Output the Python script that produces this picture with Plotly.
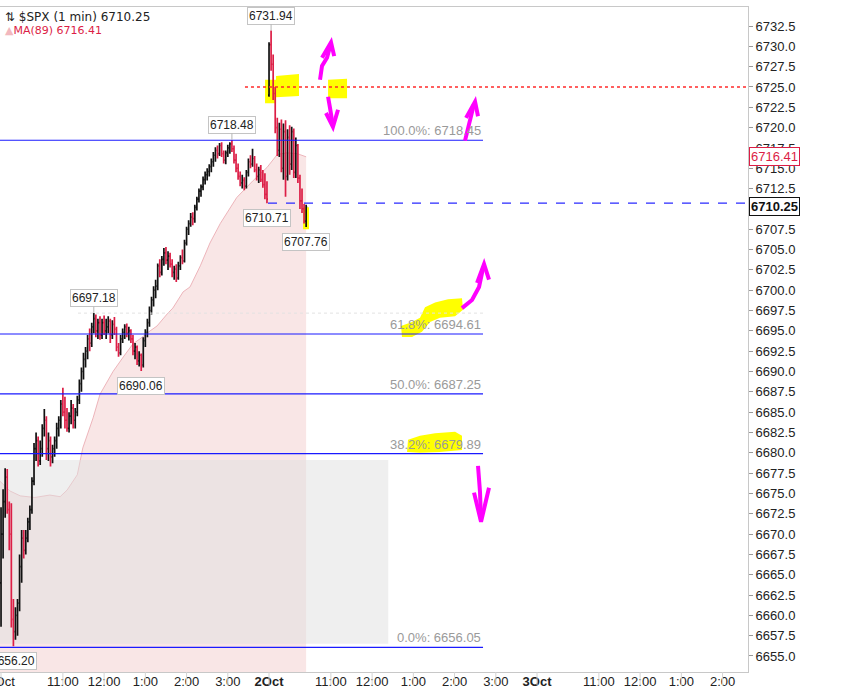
import plotly.graph_objects as go

# 3-minute bars; x is minutes from the 9:30 open of 1 Oct, sessions joined end to end
SESSION = 390
BAR_STEP = 3
oct1_count = 130
oct2_count = 19
times = [i * BAR_STEP for i in range(oct1_count)] + [SESSION + i * BAR_STEP for i in range(oct2_count)]

opens = [
    6664, 6670, 6674, 6677, 6673, 6670, 6659.5, 6658, 6660, 6661.5,
    6666, 6669.5, 6668, 6669.5, 6671.5, 6673, 6676.5, 6680.5, 6681.5, 6679,
    6680.5, 6683, 6684, 6680.5, 6681.5, 6679.5, 6680.5, 6681.5, 6683, 6684,
    6686, 6685, 6684, 6683, 6684.5, 6685.5, 6684, 6685, 6686.5, 6688.5,
    6690, 6691.5, 6692.5, 6694, 6693.5, 6695.5, 6696.5, 6695, 6696, 6694.5,
    6696, 6695, 6695.5, 6696.2, 6694.5, 6695.8, 6695.2, 6693, 6692.3, 6694,
    6694.8, 6695.5, 6694.7, 6695, 6694, 6692.5, 6693, 6691.3, 6692, 6690.8,
    6693.8, 6694.8, 6696, 6697.5, 6698.8, 6700, 6700.5, 6703, 6702.2, 6703.8,
    6704.6, 6703.7, 6704.2, 6703.2, 6702.2, 6702.6, 6701.5, 6703, 6704, 6703.6,
    6705.8, 6707.5, 6708.2, 6709, 6708.8, 6710.2, 6711.2, 6712.2, 6712.7, 6713.6,
    6714.2, 6714.6, 6715.2, 6715.8, 6716.6, 6717.2, 6716.8, 6717.8, 6716.8, 6716,
    6716.9, 6717.5, 6718, 6717.4, 6716, 6715, 6714, 6713.2, 6713.5, 6712.8,
    6714.5, 6715.8, 6715.5, 6716.2, 6714.8, 6714, 6714.8, 6713.6, 6713, 6711.8,
    6724, 6730.2, 6727.8, 6724.2, 6720, 6717.2, 6719.8, 6715, 6719.5, 6714,
    6718.8, 6715.5, 6719.5, 6714.5, 6717.8, 6713.8, 6711, 6710, 6708.5,
]
highs = [
    6673.3, 6675.5, 6678.1, 6678, 6674, 6673.8, 6662, 6661, 6662, 6667.5,
    6670.5, 6670.5, 6670.5, 6672, 6673.5, 6677, 6681.2, 6682.5, 6682, 6681.5,
    6683.5, 6685.4, 6684.5, 6682.5, 6682, 6681, 6682, 6683.7, 6684.5, 6686.5,
    6688, 6686.9, 6685.5, 6685, 6686.5, 6686, 6685.5, 6687, 6689, 6690.5,
    6692.3, 6693, 6694.5, 6695.3, 6696, 6697.18, 6697, 6696.5, 6696.8, 6696.5,
    6696.9, 6696.5, 6696.8, 6696.5, 6696.3, 6696.7, 6695.5, 6693.5, 6694.5, 6695.3,
    6695.8, 6695.9, 6695.5, 6695.2, 6694.5, 6693.5, 6693.2, 6692.5, 6692.2, 6694.2,
    6695.2, 6696.5, 6698, 6699.2, 6700.5, 6701.3, 6703.3, 6703.8, 6704.2, 6705.2,
    6705.3, 6704.8, 6704.6, 6703.8, 6703, 6703.2, 6703.5, 6704.3, 6705, 6706.2,
    6707.8, 6708.6, 6709.5, 6709.6, 6710.5, 6711.5, 6712.5, 6713, 6714, 6714.6,
    6715, 6715.5, 6716.2, 6717, 6717.6, 6717.8, 6718.1, 6718.2, 6717.2, 6717.2,
    6717.9, 6718.2, 6718.48, 6717.8, 6716.8, 6715.6, 6714.6, 6714.2, 6713.9, 6714.8,
    6716.2, 6716.6, 6717.4, 6716.5, 6715.6, 6715.2, 6715.4, 6714.8, 6714.4, 6713.4,
    6730.5, 6731.94, 6729, 6725, 6721.2, 6720.6, 6721, 6720.5, 6720.9, 6719.8,
    6720.3, 6720.1, 6719.9, 6718.8, 6718, 6714.2, 6712.5, 6710.6, 6710.5,
]
lows = [
    6658.6, 6667, 6672, 6672.5, 6668, 6658.5, 6656.2, 6657, 6657.5, 6660.5,
    6664, 6667, 6667.5, 6669, 6670.5, 6672.5, 6676, 6679, 6678.3, 6678.5,
    6679.5, 6682, 6679.1, 6679, 6678.3, 6678.7, 6679.5, 6680.5, 6682, 6683,
    6684.5, 6683, 6682.6, 6682.5, 6683.5, 6683, 6683, 6684.5, 6686, 6687.5,
    6689, 6690.5, 6691.5, 6692.5, 6693, 6694.7, 6694.2, 6694, 6693.9, 6694,
    6694.5, 6694, 6694.7, 6693.5, 6694, 6694.5, 6692.5, 6691.8, 6692, 6693.5,
    6694, 6694.2, 6693.8, 6693.5, 6692, 6691.5, 6690.8, 6690.6, 6690.06, 6690.5,
    6693, 6694.2, 6695.5, 6697, 6698, 6699, 6700, 6701.6, 6701.8, 6703,
    6703.2, 6702.5, 6702.8, 6701.6, 6701.3, 6701, 6701.3, 6702.5, 6703.2, 6703.4,
    6705.5, 6706.8, 6707.8, 6708, 6708.3, 6709.8, 6710.8, 6711.5, 6712.3, 6713,
    6713.5, 6714, 6714.5, 6715.2, 6715.8, 6716.2, 6716.5, 6716.4, 6715.6, 6715.5,
    6716.4, 6716.8, 6717, 6715.6, 6714.5, 6713.6, 6712.8, 6712.5, 6712.3, 6712.5,
    6714, 6715, 6715.2, 6714.5, 6713.5, 6713.2, 6713.3, 6712.6, 6711.2, 6710.71,
    6723.8, 6727, 6723.4, 6719.3, 6716.5, 6716.4, 6714.5, 6713.6, 6711.5, 6713.5,
    6714.2, 6714.8, 6713.8, 6713.8, 6713.2, 6710, 6709.5, 6708.2, 6707.76,
]
closes = [
    6670, 6674, 6677, 6673, 6670, 6659.5, 6658, 6660, 6661.5, 6666,
    6669.5, 6668, 6669.5, 6671.5, 6673, 6676.5, 6680.5, 6681.5, 6679, 6680.5,
    6683, 6684, 6680.5, 6681.5, 6679.5, 6680.5, 6681.5, 6683, 6684, 6686,
    6685, 6684, 6683, 6684.5, 6685.5, 6684, 6685, 6686.5, 6688.5, 6690,
    6691.5, 6692.5, 6694, 6693.5, 6695.5, 6696.5, 6695, 6696, 6694.5, 6696,
    6695, 6695.5, 6696.2, 6694.5, 6695.8, 6695.2, 6693, 6692.3, 6694, 6694.8,
    6695.5, 6694.7, 6695, 6694, 6692.5, 6693, 6691.3, 6692, 6690.8, 6693.8,
    6694.8, 6696, 6697.5, 6698.8, 6700, 6700.5, 6703, 6702.2, 6703.8, 6704.6,
    6703.7, 6704.2, 6703.2, 6702.2, 6702.6, 6701.5, 6703, 6704, 6703.6, 6705.8,
    6707.5, 6708.2, 6709, 6708.8, 6710.2, 6711.2, 6712.2, 6712.7, 6713.6, 6714.2,
    6714.6, 6715.2, 6715.8, 6716.6, 6717.2, 6716.8, 6717.8, 6716.8, 6716, 6716.9,
    6717.5, 6718, 6717.4, 6716, 6715, 6714, 6713.2, 6713.5, 6712.8, 6714.5,
    6715.8, 6715.5, 6716.2, 6714.8, 6714, 6714.8, 6713.6, 6713, 6711.8, 6711.2,
    6730.2, 6727.8, 6724.2, 6720, 6717.2, 6719.8, 6715, 6719.5, 6714, 6718.8,
    6715.5, 6719.5, 6714.5, 6717.8, 6713.8, 6711, 6710, 6708.5, 6710.25,
]

# MA(89)
ma_times = [-1.5, 13, 28, 49, 71, 86, 96, 111, 119, 134, 144, 163, 178, 192, 202, 217,
            227, 242, 250, 265, 275, 290, 304, 319, 343, 367, 387, 402, 416, 431, 444]
ma_values = [6676.5, 6675.3, 6674.7, 6674.5, 6674.8, 6674.6, 6675.4, 6677.3, 6680.6, 6684.3,
             6687.2, 6690.0, 6691.8, 6693.4, 6694.0, 6695.0, 6695.6, 6697.1, 6697.8, 6699.8,
             6700.4, 6703.0, 6705.8, 6708.2, 6711.4, 6713.5, 6715.1, 6716.7, 6716.9, 6716.8, 6716.41]

fib_levels = [6718.45, 6694.61, 6687.25, 6679.89, 6656.05]
fib_pcts = ["100.0%", "61.8%", "50.0%", "38.2%", "0.0%"]

# (bar time, price, label above?)
callouts = [(393, 6731.94, True), (336, 6718.48, True), (387, 6710.71, False),
            (444, 6707.76, False), (135, 6697.18, True), (204, 6690.06, False),
            (18, 6656.20, False)]

last_price = 6710.25
ma_last = 6716.41
red_level = 6725.0
dash_level = 6710.71
faint_level = 6697.18
gray_zone = [-1.5, 563.5, 6656.5, 6679.1]  # t0, t1, low, high

tick_vals = [0, 90, 150, 210, 270, 330, 390, 480, 540, 600, 660, 720, 780, 870, 930, 990, 1050]
tick_text = ["1Oct", "11:00", "12:00", "1:00", "2:00", "3:00", "<b>2Oct</b>", "11:00", "12:00",
             "1:00", "2:00", "3:00", "<b>3Oct</b>", "11:00", "12:00", "1:00", "2:00"]

x_range = [-1.5, 1087]
y_range = [6653.03, 6734.84]
fib_end = 701.4

# hand-drawn marks on the picture (data coords)
yellow_marks = [
    [(384.2, 6723.0), (384.2, 6725.9), (400.2, 6725.9), (400.2, 6726.35), (433.6, 6726.6),
     (433.6, 6723.9), (400.2, 6723.75), (400.2, 6723.0)],
    [(475.9, 6723.6), (475.9, 6725.9), (503.5, 6726.0), (503.5, 6723.6)],
    [(439.5, 6707.5), (439.5, 6710.2), (448.2, 6710.2), (448.2, 6707.5)],
    [(583.5, 6694.25), (582.1, 6695.6), (598.1, 6696.1), (609.7, 6696.6), (617.0, 6697.9),
     (631.6, 6698.5), (650.5, 6698.9), (670.8, 6699.0), (672.3, 6697.6), (660.7, 6696.8),
     (638.8, 6696.6), (624.3, 6696.1), (612.6, 6694.9), (598.1, 6694.25)],
    [(590.8, 6680.1), (592.3, 6681.6), (609.7, 6682.1), (631.6, 6682.4), (660.7, 6682.6),
     (670.8, 6682.1), (670.8, 6680.35), (638.8, 6680.1), (609.7, 6680.0)],
]
magenta_shafts = [
    [(464.2, 6725.9), (467.1, 6727.6), (474.4, 6728.6), (480.2, 6730.4)],
    [(475.9, 6723.8), (478.8, 6722.4), (483.0, 6720.2)],
    [(675.2, 6718.4), (681.0, 6720.4), (688.3, 6722.9)],
    [(670.8, 6697.8), (685.4, 6698.8), (695.6, 6700.4), (701.4, 6702.7)],
    [(694.1, 6678.4), (697.0, 6675.2), (698.5, 6671.6)],
]
magenta_heads = [
    [(467.1, 6728.6), (480.2, 6730.5), (484.8, 6728.8)],
    [(472.9, 6721.8), (483.0, 6720.1), (490.4, 6722.2)],
    [(676.7, 6721.2), (689.8, 6723.2), (694.1, 6721.4)],
    [(692.7, 6700.9), (702.9, 6703.2), (710.1, 6701.3)],
    [(688.3, 6675.1), (698.5, 6671.5), (710.1, 6675.7)],
]


def path(pts, close=False):
    s = "M " + " L ".join(f"{x},{y}" for x, y in pts)
    return s + (" Z" if close else "")


LBL = "Liberation Sans, Arial, sans-serif"
RED = "#dc1e46"

fig = go.Figure()

fig.add_trace(go.Ohlc(x=times, open=opens, high=highs, low=lows, close=closes,
                      increasing=dict(line=dict(color="#111111", width=1.7)),
                      decreasing=dict(line=dict(color=RED, width=1.7)),
                      tickwidth=0.5, hoverinfo="skip"))

# backgrounds go under the bars (shapes layer 'below')
shapes = []
ma_pts = list(zip(ma_times, ma_values))
area = [(ma_times[0], y_range[0])] + ma_pts + [(ma_times[-1], y_range[0])]
shapes.append(dict(type="path", xref="x", yref="y", layer="below", path=path(area, True),
                   fillcolor="rgb(249,230,230)", line=dict(width=0)))
shapes.append(dict(type="path", xref="x", yref="y", layer="below", path=path(ma_pts),
                   line=dict(color="rgba(232,165,172,0.8)", width=1)))
t0, t1, lo, hi = gray_zone
shapes.append(dict(type="rect", xref="x", yref="y", layer="below", x0=t0, x1=t1, y0=lo, y1=hi,
                   fillcolor="rgba(223,223,223,0.5)", line=dict(width=0)))
for mark in yellow_marks:
    shapes.append(dict(type="path", xref="x", yref="y", layer="below", path=path(mark, True),
                       fillcolor="#ffff00", line=dict(width=0)))

annotations = []

shapes.append(dict(type="line", xref="x", yref="y", x0=112, x1=fib_end, y0=faint_level,
                   y1=faint_level, line=dict(color="#e2e2e2", width=1, dash="dot")))
for lvl, pct in zip(fib_levels, fib_pcts):
    shapes.append(dict(type="line", xref="x", yref="y", x0=x_range[0], x1=fib_end,
                       y0=lvl, y1=lvl, line=dict(color="#1a1aff", width=1.2)))
    annotations.append(dict(x=fib_end, y=lvl, xref="x", yref="y", xanchor="right",
                            yanchor="bottom", showarrow=False, text=f"{pct}: {lvl:.2f}",
                            font=dict(family=LBL, size=13, color="#9a9a9a")))

shapes.append(dict(type="line", xref="x", yref="y", x0=355, x1=x_range[1], y0=red_level,
                   y1=red_level, line=dict(color="#ff2a2a", width=1.3, dash="dot")))
shapes.append(dict(type="line", xref="x", yref="y", x0=388.5, x1=x_range[1], y0=dash_level,
                   y1=dash_level, line=dict(color="#2a2aff", width=1.3, dash="dash")))

for sh in magenta_shafts:
    shapes.append(dict(type="path", xref="x", yref="y", path=path(sh),
                       line=dict(color="#ff00ff", width=4)))
for hd in magenta_heads:
    shapes.append(dict(type="path", xref="x", yref="y", path=path(hd),
                       line=dict(color="#ff00ff", width=4)))

for v in tick_vals:
    shapes.append(dict(type="line", xref="x", yref="paper", x0=v, x1=v, y0=0, y1=-0.02,
                       line=dict(color="#d4d4d4", width=1)))

for t, p, above in callouts:
    annotations.append(dict(x=t, y=p, xref="x", yref="y", text=f"{p:.2f}", showarrow=True,
                            arrowhead=0, arrowwidth=1, arrowcolor="#b5b5b5", ax=0,
                            ay=-15 if above else 15, bgcolor="white", bordercolor="#c4c4c4",
                            borderwidth=1, borderpad=1,
                            font=dict(family=LBL, size=12, color="#222")))

annotations.append(dict(x=1, y=ma_last, xref="paper", yref="y", xanchor="left", xshift=1,
                        showarrow=False, text=f"{ma_last:.2f}", bgcolor="white",
                        bordercolor=RED, borderwidth=1, borderpad=1,
                        font=dict(family=LBL, size=13, color=RED)))
annotations.append(dict(x=1, y=last_price, xref="paper", yref="y", xanchor="left", xshift=1,
                        showarrow=False, text=f"<b>{last_price:.2f}</b>", bgcolor="white",
                        bordercolor="#111", borderwidth=1, borderpad=1,
                        font=dict(family=LBL, size=13, color="#111")))

annotations.append(dict(x=0, y=1, xref="paper", yref="paper", xanchor="left", yanchor="top",
                        xshift=3, yshift=-1, showarrow=False,
                        text=f"⇅ $SPX (1 min) {last_price:.2f}",
                        font=dict(family="DejaVu Sans", size=12, color="#222")))
annotations.append(dict(x=0, y=1, xref="paper", yref="paper", xanchor="left", yanchor="top",
                        xshift=3, yshift=-15, showarrow=False,
                        text=f"<span style='color:#f2b8be'>▲</span>MA(89) {ma_last:.2f}",
                        font=dict(family="DejaVu Sans", size=11, color=RED)))

fig.update_layout(
    width=846, height=690,
    margin=dict(l=0, r=98, t=7, b=18),
    paper_bgcolor="white", plot_bgcolor="white",
    showlegend=False,
    shapes=shapes, annotations=annotations,
    xaxis=dict(range=x_range, tickvals=tick_vals, ticktext=tick_text, ticks="",
               showgrid=False, zeroline=False, showline=True, mirror=True,
               linecolor="#c8c8c8", linewidth=1, rangeslider=dict(visible=False),
               ticklabeloverflow="allow", automargin=False, ticklabelstandoff=-3,
               tickfont=dict(family=LBL, size=13, color="#222")),
    yaxis=dict(range=y_range, side="right", tick0=6655, dtick=2.5, tickformat=".1f",
               ticks="outside", ticklen=4, tickcolor="#999", showgrid=False,
               zeroline=False, showline=True, linecolor="#c8c8c8", linewidth=1,
               automargin=False, tickfont=dict(family=LBL, size=13, color="#222")),
)

# the page's default body margin would push the 846x690 figure off-screen
fig.write_html("out.html", config={"displayModeBar": False},
               post_script="document.body.style.margin='0';")
